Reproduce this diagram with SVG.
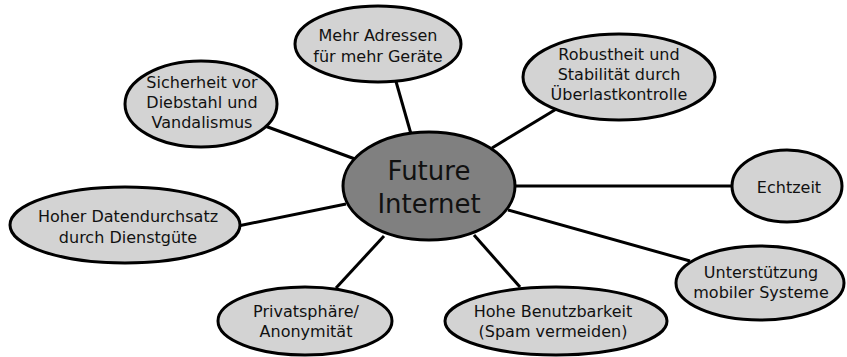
<svg xmlns="http://www.w3.org/2000/svg" width="847" height="357" viewBox="0 0 847 357">
<style>
.n{fill:#d3d3d3;stroke:#000;stroke-width:3}
.c{fill:#808080;stroke:#000;stroke-width:3}
.l{stroke:#000;stroke-width:3;fill:none}
text{font-family:"DejaVu Sans",sans-serif;font-size:16px;fill:#111;text-anchor:middle}
.big{font-size:26px}
</style>
<rect width="847" height="357" fill="#fff"/>
<g id="connectors">
<line class="l" x1="395" y1="78" x2="411" y2="134"/>
<line class="l" x1="265" y1="126" x2="355" y2="159"/>
<line class="l" x1="558" y1="108" x2="492" y2="148"/>
<line class="l" x1="513" y1="186" x2="734" y2="186"/>
<line class="l" x1="508" y1="210" x2="690" y2="261"/>
<line class="l" x1="238" y1="226" x2="346" y2="204"/>
<line class="l" x1="384" y1="236" x2="336" y2="288"/>
<line class="l" x1="474" y1="235" x2="520" y2="287"/>
</g>
<g id="center">
<ellipse class="c" cx="429" cy="186" rx="86" ry="54"/>
<text class="big" x="429" y="180">Future</text>
<text class="big" x="429" y="213">Internet</text>
</g>
<g id="n-adressen">
<ellipse class="n" cx="378" cy="44" rx="83" ry="38"/>
<text x="378" y="41">Mehr Adressen</text>
<text x="378" y="62">für mehr Geräte</text>
</g>
<g id="n-sicherheit">
<ellipse class="n" cx="201" cy="104" rx="76" ry="43"/>
<text x="202" y="88">Sicherheit vor</text>
<text x="202" y="108">Diebstahl und</text>
<text x="202" y="128">Vandalismus</text>
</g>
<g id="n-robustheit">
<ellipse class="n" cx="619" cy="77" rx="96" ry="43"/>
<text x="619" y="60">Robustheit und</text>
<text x="619" y="80">Stabilität durch</text>
<text x="619" y="100">Überlastkontrolle</text>
</g>
<g id="n-echtzeit">
<ellipse class="n" cx="787" cy="186" rx="55" ry="36"/>
<text x="789" y="193">Echtzeit</text>
</g>
<g id="n-mobil">
<ellipse class="n" cx="760" cy="283" rx="84" ry="37"/>
<text x="761" y="278">Unterstützung</text>
<text x="761" y="298">mobiler Systeme</text>
</g>
<g id="n-benutzbarkeit">
<ellipse class="n" cx="556" cy="321" rx="111" ry="34"/>
<text x="553" y="317">Hohe Benutzbarkeit</text>
<text x="553" y="337">(Spam vermeiden)</text>
</g>
<g id="n-privat">
<ellipse class="n" cx="305" cy="321" rx="87" ry="34"/>
<text x="306" y="317">Privatsphäre/</text>
<text x="306" y="337">Anonymität</text>
</g>
<g id="n-datendurchsatz">
<ellipse class="n" cx="125" cy="225" rx="115" ry="38"/>
<text x="128" y="222">Hoher Datendurchsatz</text>
<text x="128" y="243">durch Dienstgüte</text>
</g>
</svg>
